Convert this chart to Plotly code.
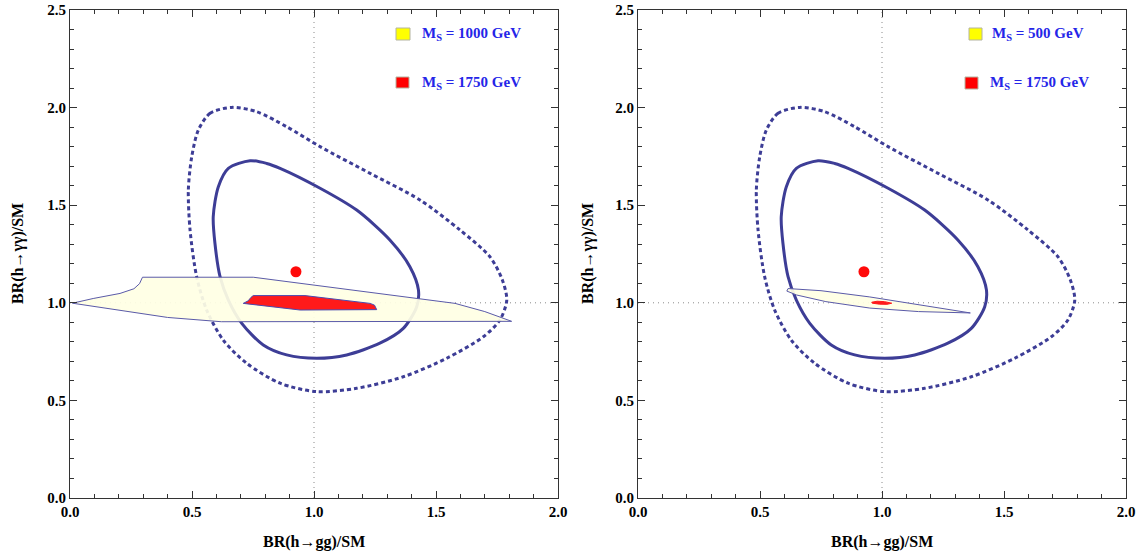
import plotly.graph_objects as go

# ---------------- data ----------------
# 1-sigma (solid) and 2-sigma (dashed) fit contours, same in both panels
sig1_x = [0.738, 0.649, 0.608, 0.587, 0.594, 0.615, 0.649, 0.704, 0.792, 0.888, 1.011, 1.134,
          1.270, 1.366, 1.421, 1.428, 1.393, 1.311, 1.175, 1.025, 0.861, 0.806, 0.738]
sig1_y = [1.728, 1.689, 1.595, 1.441, 1.305, 1.134, 1.014, 0.895, 0.784, 0.733, 0.716, 0.733,
          0.793, 0.869, 0.980, 1.066, 1.185, 1.322, 1.475, 1.587, 1.689, 1.714, 1.728]
sig2_x = [0.663, 0.574, 0.526, 0.499, 0.485, 0.492, 0.519, 0.560, 0.628, 0.724, 0.861, 1.011,
          1.175, 1.366, 1.544, 1.694, 1.762, 1.790, 1.772, 1.721, 1.598, 1.434, 1.230, 1.025,
          0.888, 0.765, 0.663]
sig2_y = [2.001, 1.971, 1.885, 1.749, 1.578, 1.373, 1.134, 0.963, 0.809, 0.690, 0.588, 0.545,
          0.562, 0.621, 0.716, 0.826, 0.912, 1.014, 1.117, 1.236, 1.373, 1.527, 1.663, 1.800,
          1.902, 1.979, 2.001]

# best fit point
best_x = [0.926]
best_y = [1.159]

# left panel: M_S = 1000 GeV region and M_S = 1750 GeV region
l_yel_x = [0.01, 0.095, 0.205, 0.262, 0.285, 0.297, 0.751, 1.578, 1.70, 1.81, 0.62, 0.40, 0.01]
l_yel_y = [0.998, 1.022, 1.048, 1.072, 1.098, 1.131, 1.131, 0.997, 0.955, 0.905, 0.903, 0.925, 0.998]
l_red_x = [0.710, 0.730, 0.742, 0.751, 0.963, 1.230, 1.248, 1.257, 0.943, 0.710]
l_red_y = [0.997, 1.010, 1.028, 1.037, 1.037, 0.997, 0.988, 0.965, 0.963, 0.997]

# right panel: M_S = 500 GeV region and M_S = 1750 GeV region
r_yel_x = [0.615, 0.75, 0.95, 1.15, 1.362, 1.15, 0.95, 0.77, 0.65, 0.61, 0.615]
r_yel_y = [1.073, 1.062, 1.03, 0.99, 0.948, 0.955, 0.973, 1.006, 1.04, 1.06, 1.073]
r_red_x = [0.958, 0.98, 1.01, 1.04, 1.02, 0.99, 0.96, 0.958]
r_red_y = [1.003, 1.008, 1.006, 0.998, 0.992, 0.993, 0.998, 1.003]

legend_left = ["M<sub>S</sub> = 1000 GeV", "M<sub>S</sub> = 1750 GeV"]
legend_right = ["M<sub>S</sub> = 500 GeV", "M<sub>S</sub> = 1750 GeV"]
xtick_vals = [0.0, 0.5, 1.0, 1.5, 2.0]
ytick_vals = [0.0, 0.5, 1.0, 1.5, 2.0, 2.5]
x_title = "BR(h→gg)/SM"
y_title = "BR(h→γγ)/SM"

# ---------------- style ----------------
W, H = 1145, 558
ML, MR, MT, MB = 70, 19, 10, 60
PW, PH = W - ML - MR, H - MT - MB


def fx(px):
    return (px - ML) / PW


def fy(py):
    return 1 - (py - MT) / PH


CONT = "#3d3d96"
SERIF = "Liberation Serif"
BLUE_TXT = "#2525e8"

fig = go.Figure()

panels = [
    ("x", "y", l_yel_x, l_yel_y, l_red_x, l_red_y, True),
    ("x2", "y2", r_yel_x, r_yel_y, r_red_x, r_red_y, False),
]
for xa, ya, yx, yy, rx, ry, red_outline in panels:
    fig.add_trace(go.Scatter(x=sig2_x, y=sig2_y, xaxis=xa, yaxis=ya, mode="lines",
                             line=dict(color=CONT, width=3, dash="4px,3px", shape="spline",
                                       smoothing=0.8),
                             hoverinfo="skip", showlegend=False))
    fig.add_trace(go.Scatter(x=sig1_x, y=sig1_y, xaxis=xa, yaxis=ya, mode="lines",
                             line=dict(color=CONT, width=3, shape="spline", smoothing=0.8),
                             hoverinfo="skip", showlegend=False))
    fig.add_trace(go.Scatter(x=yx, y=yy, xaxis=xa, yaxis=ya, mode="lines", fill="toself",
                             fillcolor="rgba(255,255,228,0.92)",
                             line=dict(color="#5a5aa8", width=1),
                             hoverinfo="skip", showlegend=False))
    fig.add_trace(go.Scatter(x=rx, y=ry, xaxis=xa, yaxis=ya, mode="lines", fill="toself",
                             fillcolor="#ff1a1a",
                             line=dict(color="#4a4ab0" if red_outline else "#ff1a1a", width=1),
                             hoverinfo="skip", showlegend=False))
    fig.add_trace(go.Scatter(x=best_x, y=best_y, xaxis=xa, yaxis=ya, mode="markers",
                             marker=dict(color="#ff0a0a", size=11),
                             hoverinfo="skip", showlegend=False))

ydom = [0.0, 1.0]
xdoms = [[0.0, fx(558)], [fx(638), 1.0]]

TICKFONT = dict(family=SERIF, size=15, color="black", weight="bold")


def xaxis_cfg(dom, anchor):
    return dict(domain=dom, anchor=anchor, range=[0, 2], tickvals=xtick_vals,
                ticktext=[f"{v:.1f}" for v in xtick_vals],
                ticks="inside", ticklen=7, tickcolor="#333", tickwidth=1,
                minor=dict(dtick=0.1, tick0=0, ticks="inside", ticklen=4, tickcolor="#333"),
                showline=True, linecolor="#333", linewidth=1, mirror="ticks",
                showgrid=False, zeroline=False, tickfont=TICKFONT, automargin=False,
                ticklabeloverflow="allow")


def yaxis_cfg(anchor):
    return dict(domain=ydom, anchor=anchor, range=[0, 2.5], tickvals=ytick_vals,
                ticktext=[f"{v:.1f}" for v in ytick_vals],
                ticks="inside", ticklen=7, tickcolor="#333", tickwidth=1,
                minor=dict(dtick=0.1, tick0=0, ticks="inside", ticklen=4, tickcolor="#333"),
                showline=True, linecolor="#333", linewidth=1, mirror="ticks",
                showgrid=False, zeroline=False, tickfont=TICKFONT, automargin=False,
                ticklabeloverflow="allow")


shapes = []
for xa, ya in [("x", "y"), ("x2", "y2")]:
    shapes.append(dict(type="line", layer="below", xref=xa, yref=f"{ya} domain",
                       x0=1, x1=1, y0=0, y1=1,
                       line=dict(color="#8a8a8a", width=1, dash="1px,4px")))
    shapes.append(dict(type="line", layer="below", xref=f"{xa} domain", yref=ya,
                       x0=0, x1=1, y0=1, y1=1,
                       line=dict(color="#8a8a8a", width=1, dash="1px,4px")))

# legend boxes (pixel positions converted to paper coords)
boxes = [
    (396, 28, 410, 40, "#ffff00"), (396, 77, 409, 88, "#ff0000"),
    (969, 28, 982, 40, "#ffff00"), (965, 77, 978, 89, "#ff0000"),
]
for x0, y0, x1, y1, col in boxes:
    shapes.append(dict(type="rect", xref="paper", yref="paper",
                       x0=fx(x0), x1=fx(x1), y0=fy(y1), y1=fy(y0),
                       fillcolor=col, line=dict(color="#b4b4a0", width=1)))

annotations = []
leg_pos = [(420, 34, legend_left[0]), (420, 83, legend_left[1]),
           (990, 34, legend_right[0]), (988, 83, legend_right[1])]
for px, py, txt in leg_pos:
    annotations.append(dict(x=fx(px), y=fy(py), xref="paper", yref="paper",
                            text=f"<b>{txt}</b>", showarrow=False, xanchor="left",
                            yanchor="middle",
                            font=dict(family=SERIF, size=15, color=BLUE_TXT)))
for cx in [314, 882]:
    annotations.append(dict(x=fx(cx), y=fy(542), xref="paper", yref="paper",
                            text=f"<b>{x_title}</b>", showarrow=False, xanchor="center",
                            yanchor="middle", font=dict(family=SERIF, size=16, color="black")))
for cx in [18, 588]:
    annotations.append(dict(x=fx(cx), y=fy(254), xref="paper", yref="paper",
                            text=f"<b>{y_title}</b>", showarrow=False, xanchor="center",
                            yanchor="middle", textangle=-90,
                            font=dict(family=SERIF, size=16, color="black")))

fig.update_layout(
    width=W, height=H,
    margin=dict(l=ML, r=MR, t=MT, b=MB, pad=0),
    paper_bgcolor="white", plot_bgcolor="white",
    xaxis=xaxis_cfg(xdoms[0], "y"),
    yaxis=yaxis_cfg("x"),
    xaxis2=xaxis_cfg(xdoms[1], "y2"),
    yaxis2=yaxis_cfg("x2"),
    shapes=shapes,
    annotations=annotations,
    showlegend=False,
    hovermode=False,
)

fig.write_html("out.html",
               config={"displayModeBar": False, "staticPlot": True},
               post_script="document.body.style.margin='0px';document.body.style.overflow='hidden';")
